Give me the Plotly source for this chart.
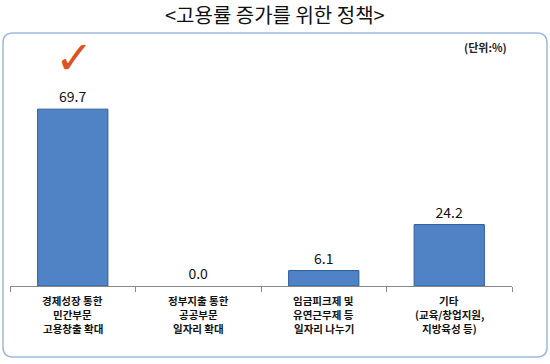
import plotly.graph_objects as go

categories = ["경제성장 통한 민간부문 고용창출 확대",
              "정부지출 통한 공공부문 일자리 확대",
              "임금피크제 및 유연근무제 등 일자리 나누기",
              "기타 (교육/창업지원, 지방육성 등)"]
category_lines = [["경제성장 통한", "민간부문", "고용창출 확대"],
                  ["정부지출 통한", "공공부문", "일자리 확대"],
                  ["임금피크제 및", "유연근무제 등", "일자리 나누기"],
                  ["기타", "(교육/창업지원,", "지방육성 등)"]]
values = [69.7, 0.0, 6.1, 24.2]
value_labels = ["69.7", "0.0", "6.1", "24.2"]
title_text = "<고용률 증가를 위한 정책>"
unit_text = "(단위:%)"

W, H = 550, 364
L, R, T, B = 10, 38, 83, 78
pw, ph = W - L - R, H - T - B
FONT = "Noto Sans CJK KR"

def px2paper(x, y):
    return (x - L) / pw, (H - B - y) / ph

fig = go.Figure()
fig.add_trace(go.Bar(
    x=categories, y=values, width=0.56,
    marker=dict(color="#4F83C6",
                line=dict(color="#2F5E9A", width=[1 if v > 0 else 0 for v in values])),
    text=value_labels, textposition="outside", cliponaxis=False,
    textfont=dict(family=FONT, size=14, color="#111"),
))

# category labels, one annotation per line
for i, lines in enumerate(category_lines):
    for j, line in enumerate(lines):
        _, yy = px2paper(0, 300.5 + 14 * j)
        fig.add_annotation(text="<b>" + line + "</b>", x=categories[i], y=yy,
                           xref="x", yref="paper", showarrow=False,
                           xanchor="center", yanchor="middle",
                           font=dict(family=FONT, size=10.5, color="#111"))

# rounded border
x0, y0, x1, y1, r = 3, 33, 547, 357, 10
def P(x, y):
    a, b = px2paper(x, y)
    return f"{a:.5f},{b:.5f}"
path = (f"M {P(x0+r,y0)} L {P(x1-r,y0)} Q {P(x1,y0)} {P(x1,y0+r)} "
        f"L {P(x1,y1-r)} Q {P(x1,y1)} {P(x1-r,y1)} L {P(x0+r,y1)} "
        f"Q {P(x0,y1)} {P(x0,y1-r)} L {P(x0,y0+r)} Q {P(x0,y0)} {P(x0+r,y0)} Z")
fig.add_shape(type="path", path=path, xref="paper", yref="paper",
              line=dict(color="#9DB9DE", width=1.5), layer="above")

tx, ty = px2paper(275, 14)
fig.add_annotation(text=title_text, x=tx, y=ty, xref="paper", yref="paper",
                   showarrow=False, xanchor="center", yanchor="middle",
                   font=dict(family=FONT, size=20, color="#111"))
ux, uy = px2paper(509, 47)
fig.add_annotation(text="<b>" + unit_text + "</b>", x=ux, y=uy, xref="paper", yref="paper",
                   showarrow=False, xanchor="right", yanchor="middle",
                   font=dict(family=FONT, size=11, color="#222"))
cx, cy = px2paper(74, 58)
fig.add_annotation(text="✓", x=cx, y=cy, xref="paper", yref="paper",
                   showarrow=False, xanchor="center", yanchor="middle",
                   font=dict(family="DejaVu Sans", size=46, color="#D9541E"))

fig.update_layout(
    width=W, height=H, margin=dict(l=L, r=R, t=T, b=B, autoexpand=False),
    paper_bgcolor="white", plot_bgcolor="white", showlegend=False,
    xaxis=dict(showticklabels=False, automargin=False,
               tickson="boundaries", ticks="outside", ticklen=5, tickcolor="#888",
               showline=True, linecolor="#888", linewidth=1, showgrid=False),
    yaxis=dict(range=[0, 80], visible=False, showgrid=False, automargin=False),
)
fig.write_html("out.html", config={"displayModeBar": False},
               post_script="document.body.style.margin='0';")
